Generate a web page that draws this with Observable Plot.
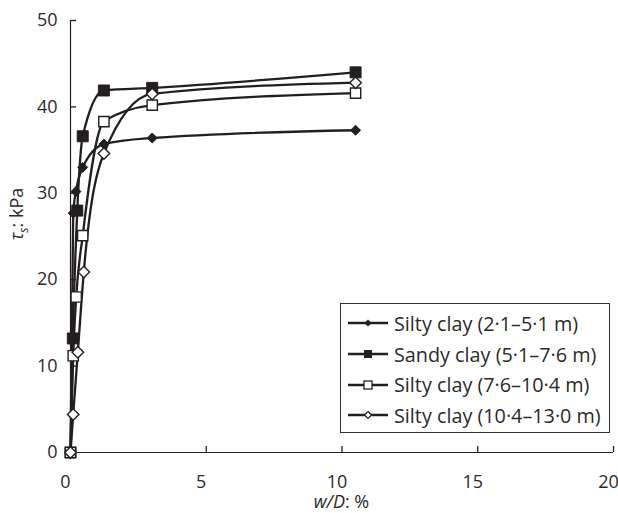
<!DOCTYPE html>
<html>
<head>
<meta charset="utf-8">
<script src="https://cdn.jsdelivr.net/npm/d3@7"></script>
<script src="https://cdn.jsdelivr.net/npm/@observablehq/plot@0.6"></script>
<style>
  html, body { margin: 0; padding: 0; background: #fff; }
  #wrap { position: relative; width: 618px; height: 513px; font-family: "Open Sans", sans-serif; color: #2b2b2b; }
  #legend { position: absolute; left: 340px; top: 303px; width: 270px; height: 130px; border: 1.3px solid #333; background: #fff; box-sizing: border-box; padding-top: 4px; }
  .row { display: flex; align-items: center; height: 30.7px; font-size: 19.8px; white-space: nowrap; }
  .row svg { margin-left: 7px; margin-right: 6px; }
  #xlabel { position: absolute; left: 0; width: 683px; top: 490px; text-align: center; font-size: 18px; line-height: 22px; }
  #ylabel { position: absolute; left: 18px; top: 214px; font-size: 18px; transform: translate(-50%, -50%) rotate(-90deg); white-space: nowrap; }
</style>
</head>
<body>
<div id="wrap"></div>
<script>
const seriesNames = ["Silty clay (2·1–5·1 m)", "Sandy clay (5·1–7·6 m)", "Silty clay (7·6–10·4 m)", "Silty clay (10·4–13·0 m)"];
const wD_s1 = [0, 0.10, 0.20, 0.45, 1.23, 3.01, 10.5];
const tau_s1 = [0, 27.7, 30.2, 33.0, 35.7, 36.4, 37.3];
const wD_s2 = [0, 0.085, 0.25, 0.45, 1.23, 3.01, 10.5];
const tau_s2 = [0, 13.2, 28.0, 36.6, 41.9, 42.2, 44.0];
const wD_s3 = [0, 0.10, 0.21, 0.45, 1.23, 3.01, 10.5];
const tau_s3 = [0, 11.2, 18.0, 25.1, 38.3, 40.2, 41.6];
const wD_s4 = [0, 0.10, 0.27, 0.49, 1.23, 3.01, 10.5];
const tau_s4 = [0, 4.4, 11.6, 20.9, 34.6, 41.5, 42.8];
const xTicks = [0, 5, 10, 15, 20];
const yTicks = [0, 10, 20, 30, 40, 50];

const xs = [wD_s1, wD_s2, wD_s3, wD_s4];
const ys = [tau_s1, tau_s2, tau_s3, tau_s4];
const data = seriesNames.map((name, i) => xs[i].map((x, j) => ({series: name, x, y: ys[i][j]})));

const ink = "#231f20";
const markerStyles = [
  {symbol: "diamond2", r: 4.5, fill: ink, stroke: ink, strokeWidth: 1},
  {symbol: "square", r: 6.2, fill: ink, stroke: ink, strokeWidth: 1},
  {symbol: "square", r: 5.8, fill: "white", stroke: ink, strokeWidth: 1.4},
  {symbol: "diamond2", r: 5.2, fill: "white", stroke: ink, strokeWidth: 1.4}
];

const marks = [
  Plot.ruleX([0], {stroke: ink, strokeWidth: 1.2}),
  Plot.ruleY([0], {stroke: ink, strokeWidth: 1.2}),
  // inward tick marks (length set by insets, 6px)
  Plot.ruleY(yTicks, {y: d => d, x1: 0, x2: 0, insetRight: -6, stroke: ink, strokeWidth: 1.3}),
  Plot.ruleX(xTicks, {x: d => d, y1: 0, y2: 0, insetBottom: 6, stroke: ink, strokeWidth: 1.3}),
  Plot.axisX(xTicks, {tickSize: 0, tickPadding: 23, fontSize: 18, fill: "#2b2b2b"}),
  Plot.axisY(yTicks, {tickSize: 0, tickPadding: 13, fontSize: 18, fill: "#2b2b2b"}),
  ...data.map(d => Plot.line(d, {x: "x", y: "y", curve: "monotone-x", stroke: ink, strokeWidth: 2.3})),
  ...data.map((d, i) => Plot.dot(d, {x: "x", y: "y", ...markerStyles[i]}))
];

const chart = Plot.plot({
  width: 618,
  height: 513,
  marginLeft: 70,
  marginRight: 5,
  marginTop: 20,
  marginBottom: 61,
  style: {fontFamily: "'Open Sans', sans-serif", fontSize: "18px", background: "white", overflow: "visible"},
  x: {domain: [0, 20], label: null, axis: null},
  y: {domain: [0, 50], label: null, axis: null},
  marks
});

const wrap = document.getElementById("wrap");
wrap.appendChild(chart);

// shift x tick labels slightly left as in the reference
chart.querySelectorAll('g[aria-label="x-axis tick label"] text').forEach(t => {
  t.setAttribute("dx", "-5");
});

// legend
const legend = document.createElement("div");
legend.id = "legend";
const legendSym = [
  `<path d="M20,4.5 L23.5,8 L20,11.5 L16.5,8 Z" fill="${ink}"/>`,
  `<rect x="16" y="4" width="8" height="8" fill="${ink}"/>`,
  `<rect x="16" y="4" width="8" height="8" fill="white" stroke="${ink}" stroke-width="1.3"/>`,
  `<path d="M20,4.5 L23.5,8 L20,11.5 L16.5,8 Z" fill="white" stroke="${ink}" stroke-width="1.2"/>`
];
seriesNames.forEach((name, i) => {
  const row = document.createElement("div");
  row.className = "row";
  row.innerHTML = `<svg width="40" height="16"><line x1="0" y1="8" x2="40" y2="8" stroke="${ink}" stroke-width="2.6"/>${legendSym[i]}</svg><span>${name}</span>`;
  legend.appendChild(row);
});
wrap.appendChild(legend);

const xl = document.createElement("div");
xl.id = "xlabel";
xl.innerHTML = "<i>w/D</i>: %";
wrap.appendChild(xl);

const yl = document.createElement("div");
yl.id = "ylabel";
yl.innerHTML = "<i>τ</i><sub style='font-size:12px'><i>s</i></sub>: kPa";
wrap.appendChild(yl);
</script>
</body>
</html>
